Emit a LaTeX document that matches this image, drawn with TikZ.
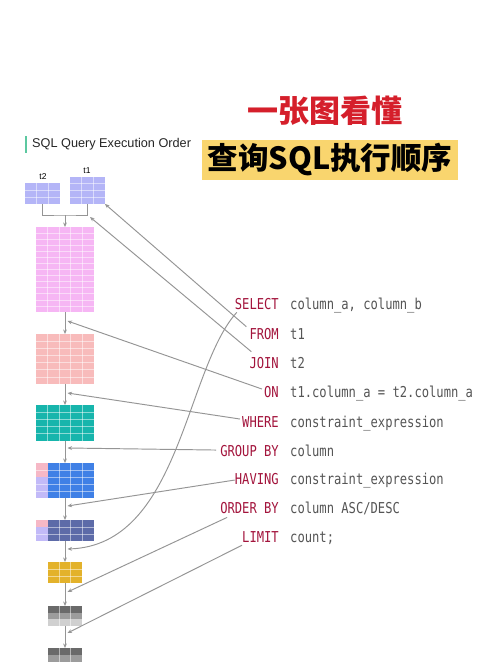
\documentclass[tikz,border=0pt]{standalone}
\usepackage{fontspec}
\setmainfont{Liberation Sans}
\newfontfamily\cjk{Noto Sans CJK SC}
\newfontfamily\monof{DejaVu Sans Mono}
\usetikzlibrary{arrows.meta,calc}
\definecolor{lav}{HTML}{B4B5F7}
\definecolor{pinkt}{HTML}{F6B6F4}
\definecolor{salm}{HTML}{F8BBBB}
\definecolor{teal2}{HTML}{17B5AC}
\definecolor{blue2}{HTML}{3F80E6}
\definecolor{slate}{HTML}{5D6BA8}
\definecolor{yel}{HTML}{E3B22B}
\definecolor{gd}{HTML}{6A6A6A}
\definecolor{gm}{HTML}{9C9C9C}
\definecolor{gl2}{HTML}{D0D0D0}
\definecolor{lpink}{HTML}{F6B8C6}
\definecolor{llav}{HTML}{C2BAF8}
\definecolor{lc}{HTML}{959595}
\definecolor{kwred}{HTML}{A3143C}
\definecolor{txtg}{HTML}{555555}
\definecolor{titred}{HTML}{D51F2B}
\definecolor{ybox}{HTML}{F9D56E}
\definecolor{mint}{HTML}{5CC8A0}
\newcommand\tabgrid[2]{%
  \pgfmathtruncatemacro\nc{#1-1}\pgfmathtruncatemacro\nr{#2-1}%
  \ifnum\nc>0
    \foreach \k in {1,...,\nc}{\draw[gline] ($(path picture bounding box.north west)!\k/#1!(path picture bounding box.north east)$) -- ($(path picture bounding box.south west)!\k/#1!(path picture bounding box.south east)$);}%
  \fi
  \ifnum\nr>0
    \foreach \k in {1,...,\nr}{\draw[gline] ($(path picture bounding box.north west)!\k/#2!(path picture bounding box.south west)$) -- ($(path picture bounding box.north east)!\k/#2!(path picture bounding box.south east)$);}%
  \fi}
\newcommand\sq[1]{\scalebox{0.81}[1]{#1}}
\tikzset{
  gline/.style={draw=white, opacity=0.5, line width=0.7},
  gridded/.style 2 args={path picture={\tabgrid{#1}{#2}}},
  tab/.style={rectangle, inner sep=0pt, outer sep=0pt, draw=none},
  flowln/.style={draw=lc, line width=0.95},
  flowa/.style={draw=lc, line width=0.95, -{Stealth[length=4.5,width=3.8]}},
  conn/.style={draw=lc, line width=0.95, -{Stealth[length=4.5,width=3.8]}},
  kw/.style={font=\monof\fontsize{15}{15}\selectfont, text=kwred, anchor=base east, inner sep=0pt},
  code/.style={font=\monof\fontsize{15}{15}\selectfont, text=txtg, anchor=base west, inner sep=0pt},
}
\begin{document}
\begin{tikzpicture}[x=1pt,y=-1pt]
\useasboundingbox (0,0) rectangle (500,667);
\fill[white] (0,0) rectangle (500,667);
% titles
\node[font=\cjk\bfseries\fontsize{31}{31}\selectfont, text=titred] (tit1) at (325,111) {一张图看懂};
\node[fill=ybox, minimum width=256, minimum height=40, inner sep=0pt, font=\cjk\bfseries\fontsize{30.5}{30.5}\selectfont, text=black] (tit2) at (330,160) {查询SQL执行顺序};
\node[fill=mint, minimum width=2.5, minimum height=17, inner sep=0pt] (bar) at (26,144) {};
\node[anchor=west, inner sep=0pt, font=\fontsize{12.7}{13}\selectfont, text=black!85] (sub) at (32,144.5) {SQL Query Execution Order};
% source tables
\node[tab, fill=lav, gridded={3}{3}, minimum width=35, minimum height=21] (t2) at (42.5,193.5) {};
\node[tab, fill=lav, gridded={3}{4}, minimum width=35, minimum height=27] (t1) at (87.5,190.5) {};
\node[font=\fontsize{8.5}{9}\selectfont, inner sep=0pt] (t2l) at (43,176.5) {t2};
\node[font=\fontsize{8.5}{9}\selectfont, inner sep=0pt] (t1l) at (87,170.5) {t1};
% pipeline tables
\node[tab, fill=pinkt, gridded={5}{14}, minimum width=58, minimum height=85] (pink) at (65,269.5) {};
\node[tab, fill=salm, gridded={5}{7}, minimum width=58, minimum height=50] (salmon) at (65,359) {};
\node[tab, fill=teal2, gridded={5}{5}, minimum width=58, minimum height=36] (teal) at (65,423) {};
\node[tab, fill=blue2, gridded={5}{5}, minimum width=58, minimum height=35] (blue) at (65,480.5) {};
\node[tab, fill=lpink, gridded={1}{2}, minimum width=11.6, minimum height=14, anchor=north west] (bpk) at (blue.north west) {};
\node[tab, fill=llav, gridded={1}{3}, minimum width=11.6, minimum height=21, anchor=north west] (blv) at (bpk.south west) {};
\node[tab, fill=slate, gridded={5}{3}, minimum width=58, minimum height=21] (slate) at (65,530.5) {};
\node[tab, fill=lpink, minimum width=11.6, minimum height=7, anchor=north west] (spk) at (slate.north west) {};
\node[tab, fill=llav, gridded={1}{2}, minimum width=11.6, minimum height=14, anchor=north west] (slv) at (spk.south west) {};
\node[tab, fill=yel, gridded={3}{3}, minimum width=34, minimum height=21] (yellow) at (65,572.5) {};
\node[tab, fill=gd, gridded={3}{1}, minimum width=34, minimum height=6.67, anchor=north] (g1) at (65,606) {};
\node[tab, fill=gm, gridded={3}{1}, minimum width=34, minimum height=6.67, anchor=north] (g2) at (g1.south) {};
\node[tab, fill=gl2, gridded={3}{1}, minimum width=34, minimum height=6.67, anchor=north] (g3) at (g2.south) {};
\node[tab, fill=gd, gridded={3}{1}, minimum width=34, minimum height=7, anchor=north] (f1) at (65,648) {};
\node[tab, fill=gm, gridded={3}{1}, minimum width=34, minimum height=7, anchor=north] (f2) at (f1.south) {};
% flow
\coordinate (mj) at (65,215);
\draw[flowln] (t2.south) |- (mj) -| (t1.south);
\draw[flowa] (mj) -- (pink.north);
\draw[flowa] (pink.south) -- (salmon.north);
\draw[flowa] (salmon.south) -- (teal.north);
\draw[flowa] (teal.south) -- (blue.north);
\draw[flowa] (blue.south) -- (slate.north);
\draw[flowa] (slate.south) -- (yellow.north);
\draw[flowa] (yellow.south) -- (g1.north);
\draw[flowa] (g3.south) -- (f1.north);
% SQL text
\node[kw] (sel) at (279,309.5) {\sq{SELECT}};
\node[kw] (frm) at (279,339.5) {\sq{FROM}};
\node[kw] (jn)  at (279,368.5) {\sq{JOIN}};
\node[kw] (on)  at (279,397.5) {\sq{ON}};
\node[kw] (whr) at (279,427.5) {\sq{WHERE}};
\node[kw] (grp) at (279,456.5) {\sq{GROUP BY}};
\node[kw] (hav) at (279,484.5) {\sq{HAVING}};
\node[kw] (ord) at (279,513.5) {\sq{ORDER BY}};
\node[kw] (lim) at (279,542.5) {\sq{LIMIT}};
\node[code] (c1) at (290,309.5) {\sq{column\_a, column\_b}};
\node[code] (c2) at (290,339.5) {\sq{t1}};
\node[code] (c3) at (290,368.5) {\sq{t2}};
\node[code] (c4) at (290,397.5) {\sq{t1.column\_a = t2.column\_a}};
\node[code] (c5) at (290,427.5) {\sq{constraint\_expression}};
\node[code] (c6) at (290,456.5) {\sq{column}};
\node[code] (c7) at (290,484.5) {\sq{constraint\_expression}};
\node[code] (c8) at (290,513.5) {\sq{column ASC/DESC}};
\node[code] (c9) at (290,542.5) {\sq{count;}};
% connector targets
\coordinate (jt) at (90,217);
\coordinate (onT) at (67.5,321);
\coordinate (whT) at (67.5,393);
\coordinate (grT) at (67.5,448);
\coordinate (haT) at (67.5,506);
\coordinate (seT) at (67.5,549);
\coordinate (orT) at (67.5,592);
\coordinate (liT) at (67.5,633);
% connectors
\draw[conn] ([shift={(2,2.5)}]sel.south west) .. controls (185,370) and (180,545) .. (seT);
\draw[conn] ([shift={(-3,-1.5)}]frm.north west) -- (t1.south east);
\draw[conn] ([shift={(2,-5.5)}]jn.north west) -- (jt);
\draw[conn] ([shift={(-2,-3)}]on.west) -- (onT);
\draw[conn] ([shift={(-2,-3)}]whr.west) -- (whT);
\draw[conn] ([shift={(-4,-1)}]grp.west) -- (grT);
\draw[conn] ([shift={(0,1)}]hav.west) -- (haT);
\draw[conn] ([shift={(7,3.5)}]ord.south west) -- (orT);
\draw[conn] ([shift={(0,2.5)}]lim.south west) -- (liT);
\end{tikzpicture}
\end{document}
